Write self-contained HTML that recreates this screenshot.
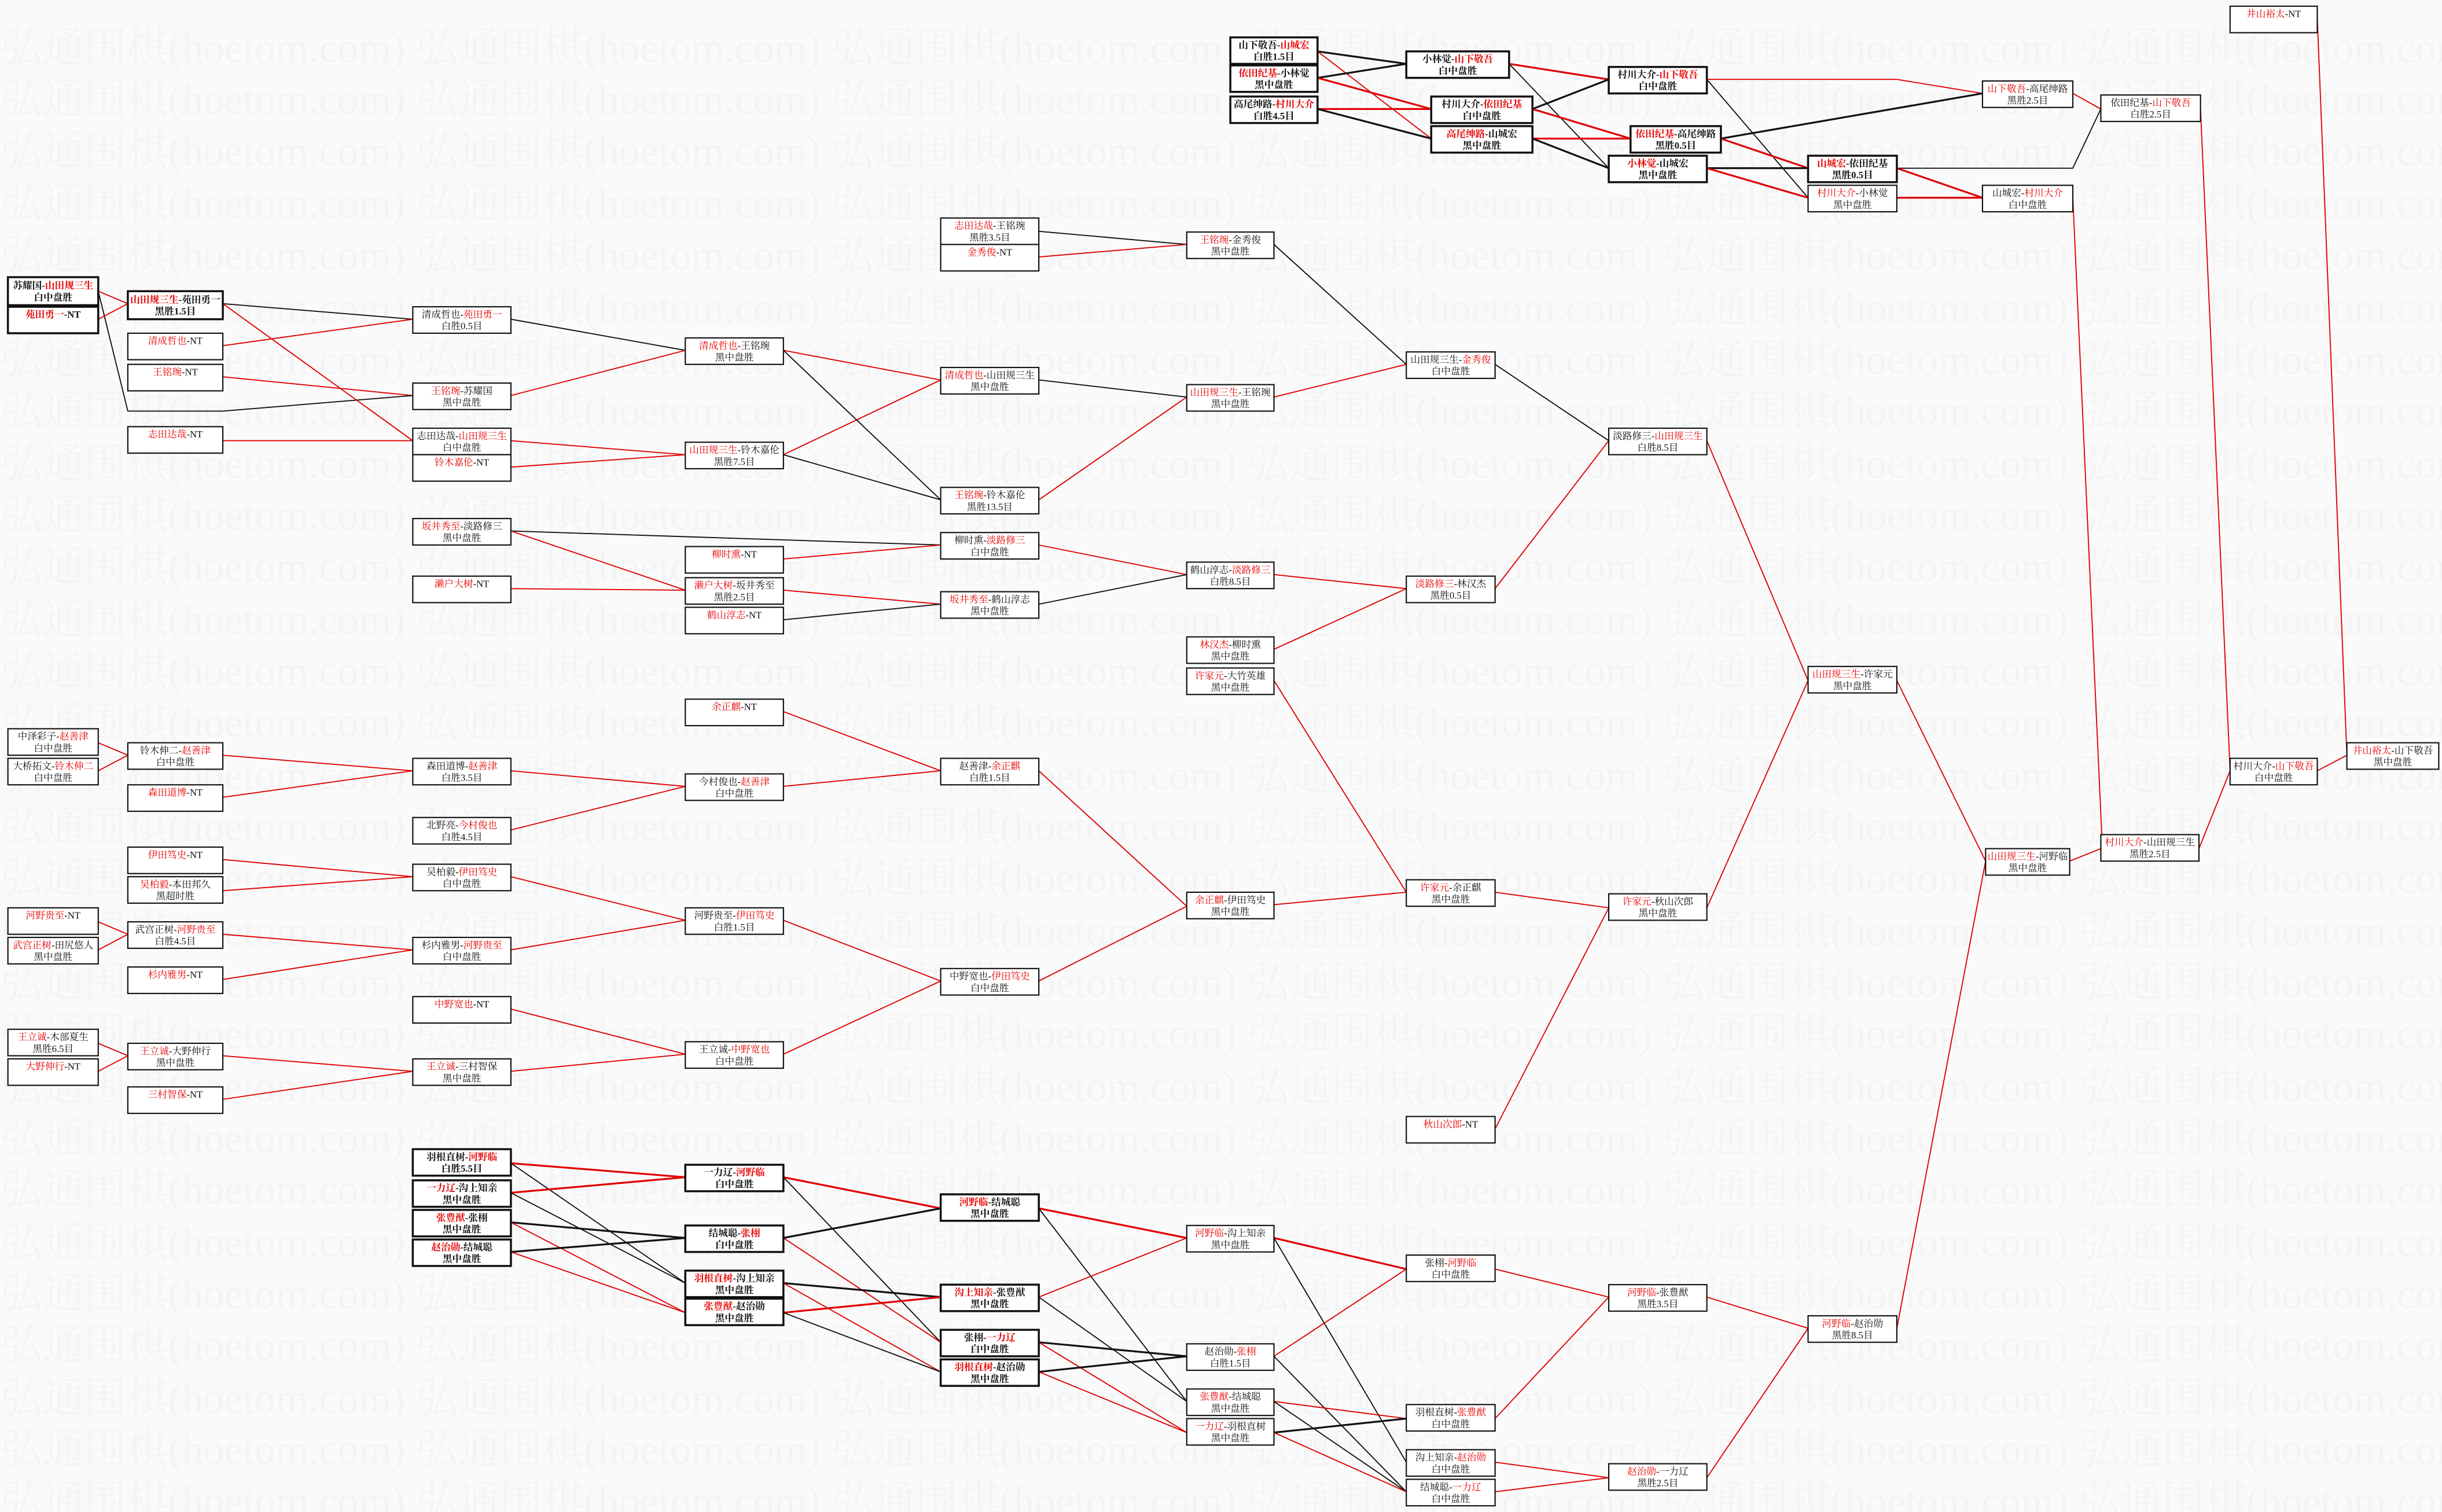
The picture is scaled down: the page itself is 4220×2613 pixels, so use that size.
<!DOCTYPE html>
<html><head><meta charset="utf-8">
<style>
html,body{margin:0;padding:0;background:#fafafa;}
svg{display:block;}
text{font-family:"Liberation Serif","Noto Serif CJK SC","Noto Sans CJK SC",serif;font-size:6.2px;text-anchor:middle;fill:#111;}
.wm text{font-size:27px;fill:#f4f4f4;text-anchor:start;font-family:"Liberation Serif","Noto Serif CJK SC",serif;}
rect{fill:#fff;stroke:#111;stroke-width:.8;}
.b rect{stroke-width:1.3;}
.b text{font-weight:bold;}
tspan.h{fill:#e60000;}
line,polyline{fill:none;}
.r{stroke:#e00000;stroke-width:.7;}
.R{stroke:#e00000;stroke-width:1.2;}
.k{stroke:#111;stroke-width:.7;}
.K{stroke:#111;stroke-width:1.2;}
</style></head><body>
<svg width="4220" height="2613" viewBox="0 0 1568 971" xmlns="http://www.w3.org/2000/svg">
<g class="wm">
<text x="0" y="40">弘通围棋(hoetom.com) 弘通围棋(hoetom.com) 弘通围棋(hoetom.com) 弘通围棋(hoetom.com) 弘通围棋(hoetom.com) 弘通围棋(hoetom.com) 弘通围棋(hoetom.com)</text>
<text x="0" y="73">弘通围棋(hoetom.com) 弘通围棋(hoetom.com) 弘通围棋(hoetom.com) 弘通围棋(hoetom.com) 弘通围棋(hoetom.com) 弘通围棋(hoetom.com) 弘通围棋(hoetom.com)</text>
<text x="0" y="106">弘通围棋(hoetom.com) 弘通围棋(hoetom.com) 弘通围棋(hoetom.com) 弘通围棋(hoetom.com) 弘通围棋(hoetom.com) 弘通围棋(hoetom.com) 弘通围棋(hoetom.com)</text>
<text x="0" y="140">弘通围棋(hoetom.com) 弘通围棋(hoetom.com) 弘通围棋(hoetom.com) 弘通围棋(hoetom.com) 弘通围棋(hoetom.com) 弘通围棋(hoetom.com) 弘通围棋(hoetom.com)</text>
<text x="0" y="173">弘通围棋(hoetom.com) 弘通围棋(hoetom.com) 弘通围棋(hoetom.com) 弘通围棋(hoetom.com) 弘通围棋(hoetom.com) 弘通围棋(hoetom.com) 弘通围棋(hoetom.com)</text>
<text x="0" y="207">弘通围棋(hoetom.com) 弘通围棋(hoetom.com) 弘通围棋(hoetom.com) 弘通围棋(hoetom.com) 弘通围棋(hoetom.com) 弘通围棋(hoetom.com) 弘通围棋(hoetom.com)</text>
<text x="0" y="240">弘通围棋(hoetom.com) 弘通围棋(hoetom.com) 弘通围棋(hoetom.com) 弘通围棋(hoetom.com) 弘通围棋(hoetom.com) 弘通围棋(hoetom.com) 弘通围棋(hoetom.com)</text>
<text x="0" y="273">弘通围棋(hoetom.com) 弘通围棋(hoetom.com) 弘通围棋(hoetom.com) 弘通围棋(hoetom.com) 弘通围棋(hoetom.com) 弘通围棋(hoetom.com) 弘通围棋(hoetom.com)</text>
<text x="0" y="307">弘通围棋(hoetom.com) 弘通围棋(hoetom.com) 弘通围棋(hoetom.com) 弘通围棋(hoetom.com) 弘通围棋(hoetom.com) 弘通围棋(hoetom.com) 弘通围棋(hoetom.com)</text>
<text x="0" y="340">弘通围棋(hoetom.com) 弘通围棋(hoetom.com) 弘通围棋(hoetom.com) 弘通围棋(hoetom.com) 弘通围棋(hoetom.com) 弘通围棋(hoetom.com) 弘通围棋(hoetom.com)</text>
<text x="0" y="373">弘通围棋(hoetom.com) 弘通围棋(hoetom.com) 弘通围棋(hoetom.com) 弘通围棋(hoetom.com) 弘通围棋(hoetom.com) 弘通围棋(hoetom.com) 弘通围棋(hoetom.com)</text>
<text x="0" y="407">弘通围棋(hoetom.com) 弘通围棋(hoetom.com) 弘通围棋(hoetom.com) 弘通围棋(hoetom.com) 弘通围棋(hoetom.com) 弘通围棋(hoetom.com) 弘通围棋(hoetom.com)</text>
<text x="0" y="440">弘通围棋(hoetom.com) 弘通围棋(hoetom.com) 弘通围棋(hoetom.com) 弘通围棋(hoetom.com) 弘通围棋(hoetom.com) 弘通围棋(hoetom.com) 弘通围棋(hoetom.com)</text>
<text x="0" y="473">弘通围棋(hoetom.com) 弘通围棋(hoetom.com) 弘通围棋(hoetom.com) 弘通围棋(hoetom.com) 弘通围棋(hoetom.com) 弘通围棋(hoetom.com) 弘通围棋(hoetom.com)</text>
<text x="0" y="507">弘通围棋(hoetom.com) 弘通围棋(hoetom.com) 弘通围棋(hoetom.com) 弘通围棋(hoetom.com) 弘通围棋(hoetom.com) 弘通围棋(hoetom.com) 弘通围棋(hoetom.com)</text>
<text x="0" y="540">弘通围棋(hoetom.com) 弘通围棋(hoetom.com) 弘通围棋(hoetom.com) 弘通围棋(hoetom.com) 弘通围棋(hoetom.com) 弘通围棋(hoetom.com) 弘通围棋(hoetom.com)</text>
<text x="0" y="573">弘通围棋(hoetom.com) 弘通围棋(hoetom.com) 弘通围棋(hoetom.com) 弘通围棋(hoetom.com) 弘通围棋(hoetom.com) 弘通围棋(hoetom.com) 弘通围棋(hoetom.com)</text>
<text x="0" y="607">弘通围棋(hoetom.com) 弘通围棋(hoetom.com) 弘通围棋(hoetom.com) 弘通围棋(hoetom.com) 弘通围棋(hoetom.com) 弘通围棋(hoetom.com) 弘通围棋(hoetom.com)</text>
<text x="0" y="640">弘通围棋(hoetom.com) 弘通围棋(hoetom.com) 弘通围棋(hoetom.com) 弘通围棋(hoetom.com) 弘通围棋(hoetom.com) 弘通围棋(hoetom.com) 弘通围棋(hoetom.com)</text>
<text x="0" y="673">弘通围棋(hoetom.com) 弘通围棋(hoetom.com) 弘通围棋(hoetom.com) 弘通围棋(hoetom.com) 弘通围棋(hoetom.com) 弘通围棋(hoetom.com) 弘通围棋(hoetom.com)</text>
<text x="0" y="707">弘通围棋(hoetom.com) 弘通围棋(hoetom.com) 弘通围棋(hoetom.com) 弘通围棋(hoetom.com) 弘通围棋(hoetom.com) 弘通围棋(hoetom.com) 弘通围棋(hoetom.com)</text>
<text x="0" y="740">弘通围棋(hoetom.com) 弘通围棋(hoetom.com) 弘通围棋(hoetom.com) 弘通围棋(hoetom.com) 弘通围棋(hoetom.com) 弘通围棋(hoetom.com) 弘通围棋(hoetom.com)</text>
<text x="0" y="773">弘通围棋(hoetom.com) 弘通围棋(hoetom.com) 弘通围棋(hoetom.com) 弘通围棋(hoetom.com) 弘通围棋(hoetom.com) 弘通围棋(hoetom.com) 弘通围棋(hoetom.com)</text>
<text x="0" y="807">弘通围棋(hoetom.com) 弘通围棋(hoetom.com) 弘通围棋(hoetom.com) 弘通围棋(hoetom.com) 弘通围棋(hoetom.com) 弘通围棋(hoetom.com) 弘通围棋(hoetom.com)</text>
<text x="0" y="840">弘通围棋(hoetom.com) 弘通围棋(hoetom.com) 弘通围棋(hoetom.com) 弘通围棋(hoetom.com) 弘通围棋(hoetom.com) 弘通围棋(hoetom.com) 弘通围棋(hoetom.com)</text>
<text x="0" y="873">弘通围棋(hoetom.com) 弘通围棋(hoetom.com) 弘通围棋(hoetom.com) 弘通围棋(hoetom.com) 弘通围棋(hoetom.com) 弘通围棋(hoetom.com) 弘通围棋(hoetom.com)</text>
<text x="0" y="907">弘通围棋(hoetom.com) 弘通围棋(hoetom.com) 弘通围棋(hoetom.com) 弘通围棋(hoetom.com) 弘通围棋(hoetom.com) 弘通围棋(hoetom.com) 弘通围棋(hoetom.com)</text>
<text x="0" y="940">弘通围棋(hoetom.com) 弘通围棋(hoetom.com) 弘通围棋(hoetom.com) 弘通围棋(hoetom.com) 弘通围棋(hoetom.com) 弘通围棋(hoetom.com) 弘通围棋(hoetom.com)</text>
<text x="0" y="973">弘通围棋(hoetom.com) 弘通围棋(hoetom.com) 弘通围棋(hoetom.com) 弘通围棋(hoetom.com) 弘通围棋(hoetom.com) 弘通围棋(hoetom.com) 弘通围棋(hoetom.com)</text>
</g>

<g>
<line class="K" x1="846" y1="33" x2="903" y2="41"/>
<line class="r" x1="846" y1="33" x2="919" y2="89"/>
<line class="K" x1="846" y1="50" x2="903" y2="41"/>
<line class="R" x1="846" y1="50" x2="919" y2="70"/>
<line class="R" x1="846" y1="70" x2="919" y2="70"/>
<line class="K" x1="846" y1="70" x2="919" y2="89"/>
<line class="R" x1="969" y1="41" x2="1033" y2="51"/>
<line class="k" x1="969" y1="41" x2="1033" y2="108"/>
<line class="K" x1="984" y1="70" x2="1033" y2="51"/>
<line class="R" x1="984" y1="70" x2="1047" y2="89"/>
<line class="R" x1="984" y1="89" x2="1047" y2="89"/>
<line class="K" x1="984" y1="89" x2="1033" y2="108"/>
<polyline class="r" points="1096,51 1218,51 1273,60"/>
<line class="k" x1="1096" y1="51" x2="1161" y2="127"/>
<line class="K" x1="1105" y1="89" x2="1273" y2="60"/>
<line class="R" x1="1105" y1="89" x2="1161" y2="108"/>
<line class="K" x1="1096" y1="108" x2="1161" y2="108"/>
<line class="R" x1="1096" y1="108" x2="1161" y2="127"/>
<polyline class="k" points="1218,108 1331,108 1349,70"/>
<line class="R" x1="1218" y1="108" x2="1273" y2="127"/>
<line class="R" x1="1218" y1="127" x2="1273" y2="127"/>
<line class="r" x1="1331" y1="60" x2="1349" y2="70"/>
<line class="r" x1="1331" y1="127" x2="1350" y2="545"/>
<line class="r" x1="1413" y1="70" x2="1432" y2="495"/>
<line class="r" x1="1488" y1="12" x2="1507" y2="485"/>
<line class="r" x1="1488" y1="495" x2="1507" y2="485"/>
<line class="r" x1="1412" y1="545" x2="1432" y2="495"/>
<line class="r" x1="1329" y1="553" x2="1349" y2="545"/>
<line class="r" x1="1218" y1="437" x2="1275" y2="553"/>
<line class="r" x1="1218" y1="853" x2="1275" y2="553"/>
<line class="r" x1="1096" y1="283" x2="1161" y2="437"/>
<line class="r" x1="1096" y1="583" x2="1161" y2="437"/>
<line class="k" x1="960" y1="234" x2="1033" y2="283"/>
<line class="r" x1="960" y1="378" x2="1033" y2="283"/>
<line class="r" x1="960" y1="573" x2="1033" y2="583"/>
<line class="r" x1="960" y1="725" x2="1033" y2="583"/>
<line class="k" x1="818" y1="157" x2="903" y2="234"/>
<line class="r" x1="818" y1="255" x2="903" y2="234"/>
<line class="r" x1="818" y1="369" x2="903" y2="378"/>
<line class="r" x1="818" y1="417" x2="903" y2="378"/>
<line class="r" x1="818" y1="437" x2="903" y2="573"/>
<line class="r" x1="818" y1="581" x2="903" y2="573"/>
<line class="k" x1="661" y1="148" x2="762" y2="157"/>
<line class="r" x1="667" y1="165" x2="762" y2="157"/>
<line class="k" x1="667" y1="244" x2="762" y2="255"/>
<line class="r" x1="667" y1="321" x2="762" y2="255"/>
<line class="r" x1="667" y1="350" x2="762" y2="369"/>
<line class="k" x1="667" y1="388" x2="762" y2="369"/>
<line class="r" x1="667" y1="495" x2="762" y2="582"/>
<line class="r" x1="667" y1="630" x2="762" y2="582"/>
<line class="r" x1="503" y1="225" x2="604" y2="244"/>
<line class="r" x1="503" y1="292" x2="604" y2="244"/>
<line class="k" x1="503" y1="225" x2="604" y2="321"/>
<line class="k" x1="503" y1="292" x2="604" y2="321"/>
<line class="k" x1="328" y1="341" x2="604" y2="350"/>
<line class="r" x1="503" y1="359" x2="604" y2="350"/>
<line class="r" x1="503" y1="379" x2="604" y2="388"/>
<line class="k" x1="503" y1="398" x2="604" y2="388"/>
<line class="r" x1="328" y1="341" x2="440" y2="379"/>
<line class="r" x1="328" y1="378" x2="440" y2="379"/>
<line class="r" x1="503" y1="457" x2="604" y2="495"/>
<line class="r" x1="503" y1="505" x2="604" y2="495"/>
<line class="r" x1="503" y1="591" x2="604" y2="630"/>
<line class="r" x1="503" y1="677" x2="604" y2="630"/>
<line class="k" x1="328" y1="205" x2="440" y2="225"/>
<line class="r" x1="328" y1="254" x2="440" y2="225"/>
<line class="r" x1="328" y1="283" x2="440" y2="292"/>
<line class="r" x1="328" y1="300" x2="440" y2="292"/>
<line class="r" x1="328" y1="495" x2="440" y2="505"/>
<line class="r" x1="328" y1="533" x2="440" y2="505"/>
<line class="r" x1="328" y1="563" x2="440" y2="591"/>
<line class="r" x1="328" y1="610" x2="440" y2="591"/>
<line class="r" x1="328" y1="648" x2="440" y2="677"/>
<line class="r" x1="328" y1="688" x2="440" y2="677"/>
<line class="k" x1="143" y1="195" x2="265" y2="205"/>
<line class="r" x1="143" y1="222" x2="265" y2="205"/>
<line class="r" x1="143" y1="242" x2="265" y2="254"/>
<polyline class="k" points="63,187 82,264 143,264 265,254"/>
<line class="r" x1="143" y1="195" x2="265" y2="283"/>
<line class="r" x1="143" y1="283" x2="265" y2="283"/>
<line class="r" x1="143" y1="485" x2="265" y2="495"/>
<line class="r" x1="143" y1="512" x2="265" y2="495"/>
<line class="r" x1="143" y1="552" x2="265" y2="563"/>
<line class="r" x1="143" y1="572" x2="265" y2="563"/>
<line class="r" x1="143" y1="600" x2="265" y2="610"/>
<line class="r" x1="143" y1="629" x2="265" y2="610"/>
<line class="r" x1="143" y1="678" x2="265" y2="688"/>
<line class="r" x1="143" y1="706" x2="265" y2="688"/>
<line class="r" x1="63" y1="187" x2="82" y2="195"/>
<line class="r" x1="63" y1="205" x2="82" y2="195"/>
<line class="r" x1="63" y1="477" x2="82" y2="485"/>
<line class="r" x1="63" y1="495" x2="82" y2="485"/>
<line class="r" x1="63" y1="592" x2="82" y2="600"/>
<line class="r" x1="63" y1="610" x2="82" y2="600"/>
<line class="r" x1="63" y1="670" x2="82" y2="678"/>
<line class="r" x1="63" y1="688" x2="82" y2="678"/>
<line class="R" x1="328" y1="747" x2="440" y2="756"/>
<line class="k" x1="328" y1="747" x2="440" y2="824"/>
<line class="R" x1="328" y1="766" x2="440" y2="756"/>
<line class="k" x1="328" y1="766" x2="440" y2="824"/>
<line class="K" x1="328" y1="785" x2="440" y2="795"/>
<line class="r" x1="328" y1="785" x2="440" y2="843"/>
<line class="K" x1="328" y1="804" x2="440" y2="795"/>
<line class="r" x1="328" y1="804" x2="440" y2="843"/>
<line class="R" x1="503" y1="756" x2="604" y2="776"/>
<line class="k" x1="503" y1="756" x2="604" y2="862"/>
<line class="K" x1="503" y1="795" x2="604" y2="776"/>
<line class="r" x1="503" y1="795" x2="604" y2="862"/>
<line class="K" x1="503" y1="824" x2="604" y2="833"/>
<line class="r" x1="503" y1="824" x2="604" y2="881"/>
<line class="R" x1="503" y1="843" x2="604" y2="833"/>
<line class="k" x1="503" y1="843" x2="604" y2="881"/>
<line class="R" x1="667" y1="776" x2="762" y2="795"/>
<line class="k" x1="667" y1="776" x2="762" y2="900"/>
<line class="r" x1="667" y1="833" x2="762" y2="795"/>
<line class="k" x1="667" y1="833" x2="762" y2="900"/>
<line class="K" x1="667" y1="862" x2="762" y2="871"/>
<line class="r" x1="667" y1="862" x2="762" y2="920"/>
<line class="K" x1="667" y1="881" x2="762" y2="871"/>
<line class="r" x1="667" y1="881" x2="762" y2="920"/>
<line class="R" x1="818" y1="795" x2="903" y2="815"/>
<line class="k" x1="818" y1="795" x2="903" y2="939"/>
<line class="r" x1="818" y1="871" x2="903" y2="815"/>
<line class="k" x1="818" y1="871" x2="903" y2="958"/>
<line class="r" x1="818" y1="900" x2="903" y2="911"/>
<line class="k" x1="818" y1="900" x2="903" y2="958"/>
<line class="K" x1="818" y1="920" x2="903" y2="911"/>
<line class="r" x1="818" y1="920" x2="903" y2="958"/>
<line class="r" x1="960" y1="815" x2="1033" y2="833"/>
<line class="r" x1="960" y1="911" x2="1033" y2="833"/>
<line class="r" x1="960" y1="939" x2="1033" y2="949"/>
<line class="r" x1="960" y1="958" x2="1033" y2="949"/>
<line class="r" x1="1096" y1="833" x2="1161" y2="853"/>
<line class="r" x1="1096" y1="949" x2="1161" y2="853"/>
</g>

<g class="b">
<rect x="790" y="24" width="56" height="17"/><text x="818" y="31"><tspan>山下敬吾-</tspan><tspan class="h">山城宏</tspan></text><text x="818" y="38.5">白胜1.5目</text>
<rect x="790" y="42" width="56" height="17"/><text x="818" y="49"><tspan class="h">依田纪基</tspan>-小林觉</text><text x="818" y="56.5">黑中盘胜</text>
<rect x="790" y="62" width="56" height="17"/><text x="818" y="69">高尾绅路-<tspan class="h">村川大介</tspan></text><text x="818" y="76.5">白胜4.5目</text>
<rect x="903" y="33" width="66" height="17"/><text x="936" y="40">小林觉-<tspan class="h">山下敬吾</tspan></text><text x="936" y="47.5">白中盘胜</text>
<rect x="919" y="62" width="65" height="17"/><text x="951.5" y="69">村川大介-<tspan class="h">依田纪基</tspan></text><text x="951.5" y="76.5">白中盘胜</text>
<rect x="919" y="81" width="65" height="17"/><text x="951.5" y="88"><tspan class="h">高尾绅路</tspan>-山城宏</text><text x="951.5" y="95.5">黑中盘胜</text>
<rect x="1033" y="43" width="63" height="17"/><text x="1064.5" y="50">村川大介-<tspan class="h">山下敬吾</tspan></text><text x="1064.5" y="57.5">白中盘胜</text>
<rect x="1047" y="81" width="58" height="17"/><text x="1076" y="88"><tspan class="h">依田纪基</tspan>-高尾绅路</text><text x="1076" y="95.5">黑胜0.5目</text>
<rect x="1033" y="100" width="63" height="17"/><text x="1064.5" y="107"><tspan class="h">小林觉</tspan>-山城宏</text><text x="1064.5" y="114.5">黑中盘胜</text>
<rect x="1161" y="100" width="57" height="17"/><text x="1189.5" y="107"><tspan class="h">山城宏</tspan>-依田纪基</text><text x="1189.5" y="114.5">黑胜0.5目</text>
</g>
<g>
<rect x="1161" y="119" width="57" height="17"/><text x="1189.5" y="126"><tspan class="h">村川大介</tspan>-小林觉</text><text x="1189.5" y="133.5">黑中盘胜</text>
<rect x="1273" y="52" width="58" height="17"/><text x="1302" y="59"><tspan class="h">山下敬吾</tspan>-高尾绅路</text><text x="1302" y="66.5">黑胜2.5目</text>
<rect x="1273" y="119" width="58" height="17"/><text x="1302" y="126">山城宏-<tspan class="h">村川大介</tspan></text><text x="1302" y="133.5">白中盘胜</text>
<rect x="1349" y="61" width="64" height="17"/><text x="1381" y="68">依田纪基-<tspan class="h">山下敬吾</tspan></text><text x="1381" y="75.5">白胜2.5目</text>
<rect x="1432" y="4" width="56" height="17"/><text x="1460" y="11"><tspan class="h">井山裕太</tspan>-NT</text>
<rect x="1507" y="477" width="59" height="17"/><text x="1536.5" y="484"><tspan class="h">井山裕太</tspan>-山下敬吾</text><text x="1536.5" y="491.5">黑中盘胜</text>
<rect x="1432" y="487" width="56" height="17"/><text x="1460" y="494">村川大介-<tspan class="h">山下敬吾</tspan></text><text x="1460" y="501.5">白中盘胜</text>
<rect x="1349" y="536" width="63" height="17"/><text x="1380.5" y="543"><tspan class="h">村川大介</tspan>-山田规三生</text><text x="1380.5" y="550.5">黑胜2.5目</text>
<rect x="1275" y="545" width="54" height="17"/><text x="1302" y="552"><tspan class="h">山田规三生</tspan>-河野临</text><text x="1302" y="559.5">黑中盘胜</text>
<rect x="1161" y="428" width="57" height="17"/><text x="1189.5" y="435"><tspan class="h">山田规三生</tspan>-许家元</text><text x="1189.5" y="442.5">黑中盘胜</text>
<rect x="1033" y="275" width="63" height="17"/><text x="1064.5" y="282">淡路修三-<tspan class="h">山田规三生</tspan></text><text x="1064.5" y="289.5">白胜8.5目</text>
<rect x="1033" y="574" width="63" height="17"/><text x="1064.5" y="581"><tspan class="h">许家元</tspan>-秋山次郎</text><text x="1064.5" y="588.5">黑中盘胜</text>
<rect x="903" y="226" width="57" height="17"/><text x="931.5" y="233">山田规三生-<tspan class="h">金秀俊</tspan></text><text x="931.5" y="240.5">白中盘胜</text>
<rect x="903" y="370" width="57" height="17"/><text x="931.5" y="377"><tspan class="h">淡路修三</tspan>-林汉杰</text><text x="931.5" y="384.5">黑胜0.5目</text>
<rect x="903" y="565" width="57" height="17"/><text x="931.5" y="572"><tspan class="h">许家元</tspan>-余正麒</text><text x="931.5" y="579.5">黑中盘胜</text>
<rect x="903" y="717" width="57" height="17"/><text x="931.5" y="724"><tspan class="h">秋山次郎</tspan>-NT</text>
<rect x="762" y="149" width="56" height="17"/><text x="790" y="156"><tspan class="h">王铭琬</tspan>-金秀俊</text><text x="790" y="163.5">黑中盘胜</text>
<rect x="762" y="247" width="56" height="17"/><text x="790" y="254"><tspan class="h">山田规三生</tspan>-王铭琬</text><text x="790" y="261.5">黑中盘胜</text>
<rect x="762" y="361" width="56" height="17"/><text x="790" y="368">鹤山淳志-<tspan class="h">淡路修三</tspan></text><text x="790" y="375.5">白胜8.5目</text>
<rect x="762" y="409" width="56" height="17"/><text x="790" y="416"><tspan class="h">林汉杰</tspan>-柳时熏</text><text x="790" y="423.5">黑中盘胜</text>
<rect x="762" y="429" width="56" height="17"/><text x="790" y="436"><tspan class="h">许家元</tspan>-大竹英雄</text><text x="790" y="443.5">黑中盘胜</text>
<rect x="762" y="573" width="56" height="17"/><text x="790" y="580"><tspan class="h">余正麒</tspan>-伊田笃史</text><text x="790" y="587.5">黑中盘胜</text>
<rect x="604" y="140" width="63" height="17"/><text x="635.5" y="147"><tspan class="h">志田达哉</tspan>-王铭琬</text><text x="635.5" y="154.5">黑胜3.5目</text>
<rect x="604" y="157" width="63" height="17"/><text x="635.5" y="164"><tspan class="h">金秀俊</tspan>-NT</text>
<rect x="604" y="236" width="63" height="17"/><text x="635.5" y="243"><tspan class="h">清成哲也</tspan>-山田规三生</text><text x="635.5" y="250.5">黑中盘胜</text>
<rect x="604" y="313" width="63" height="17"/><text x="635.5" y="320"><tspan class="h">王铭琬</tspan>-铃木嘉伦</text><text x="635.5" y="327.5">黑胜13.5目</text>
<rect x="604" y="342" width="63" height="17"/><text x="635.5" y="349">柳时熏-<tspan class="h">淡路修三</tspan></text><text x="635.5" y="356.5">白中盘胜</text>
<rect x="604" y="380" width="63" height="17"/><text x="635.5" y="387"><tspan class="h">坂井秀至</tspan>-鹤山淳志</text><text x="635.5" y="394.5">黑中盘胜</text>
<rect x="604" y="487" width="63" height="17"/><text x="635.5" y="494">赵善津-<tspan class="h">余正麒</tspan></text><text x="635.5" y="501.5">白胜1.5目</text>
<rect x="604" y="622" width="63" height="17"/><text x="635.5" y="629">中野宽也-<tspan class="h">伊田笃史</tspan></text><text x="635.5" y="636.5">白中盘胜</text>
<rect x="440" y="217" width="63" height="17"/><text x="471.5" y="224"><tspan class="h">清成哲也</tspan>-王铭琬</text><text x="471.5" y="231.5">黑中盘胜</text>
<rect x="440" y="284" width="63" height="17"/><text x="471.5" y="291"><tspan class="h">山田规三生</tspan>-铃木嘉伦</text><text x="471.5" y="298.5">黑胜7.5目</text>
<rect x="440" y="351" width="63" height="17"/><text x="471.5" y="358"><tspan class="h">柳时熏</tspan>-NT</text>
<rect x="440" y="371" width="63" height="17"/><text x="471.5" y="378"><tspan class="h">濑户大树</tspan>-坂井秀至</text><text x="471.5" y="385.5">黑胜2.5目</text>
<rect x="440" y="390" width="63" height="17"/><text x="471.5" y="397"><tspan class="h">鹤山淳志</tspan>-NT</text>
<rect x="440" y="449" width="63" height="17"/><text x="471.5" y="456"><tspan class="h">余正麒</tspan>-NT</text>
<rect x="440" y="497" width="63" height="17"/><text x="471.5" y="504">今村俊也-<tspan class="h">赵善津</tspan></text><text x="471.5" y="511.5">白中盘胜</text>
<rect x="440" y="583" width="63" height="17"/><text x="471.5" y="590">河野贵至-<tspan class="h">伊田笃史</tspan></text><text x="471.5" y="597.5">白胜1.5目</text>
<rect x="440" y="669" width="63" height="17"/><text x="471.5" y="676">王立诚-<tspan class="h">中野宽也</tspan></text><text x="471.5" y="683.5">白中盘胜</text>
<rect x="265" y="197" width="63" height="17"/><text x="296.5" y="204">清成哲也-<tspan class="h">苑田勇一</tspan></text><text x="296.5" y="211.5">白胜0.5目</text>
<rect x="265" y="246" width="63" height="17"/><text x="296.5" y="253"><tspan class="h">王铭琬</tspan>-苏耀国</text><text x="296.5" y="260.5">黑中盘胜</text>
<rect x="265" y="275" width="63" height="17"/><text x="296.5" y="282">志田达哉-<tspan class="h">山田规三生</tspan></text><text x="296.5" y="289.5">白中盘胜</text>
<rect x="265" y="292" width="63" height="17"/><text x="296.5" y="299"><tspan class="h">铃木嘉伦</tspan>-NT</text>
<rect x="265" y="333" width="63" height="17"/><text x="296.5" y="340"><tspan class="h">坂井秀至</tspan>-淡路修三</text><text x="296.5" y="347.5">黑中盘胜</text>
<rect x="265" y="370" width="63" height="17"/><text x="296.5" y="377"><tspan class="h">濑户大树</tspan>-NT</text>
<rect x="265" y="487" width="63" height="17"/><text x="296.5" y="494">森田道博-<tspan class="h">赵善津</tspan></text><text x="296.5" y="501.5">白胜3.5目</text>
<rect x="265" y="525" width="63" height="17"/><text x="296.5" y="532">北野亮-<tspan class="h">今村俊也</tspan></text><text x="296.5" y="539.5">白胜4.5目</text>
<rect x="265" y="555" width="63" height="17"/><text x="296.5" y="562">吴柏毅-<tspan class="h">伊田笃史</tspan></text><text x="296.5" y="569.5">白中盘胜</text>
<rect x="265" y="602" width="63" height="17"/><text x="296.5" y="609">杉内雅男-<tspan class="h">河野贵至</tspan></text><text x="296.5" y="616.5">白中盘胜</text>
<rect x="265" y="640" width="63" height="17"/><text x="296.5" y="647"><tspan class="h">中野宽也</tspan>-NT</text>
<rect x="265" y="680" width="63" height="17"/><text x="296.5" y="687"><tspan class="h">王立诚</tspan>-三村智保</text><text x="296.5" y="694.5">黑中盘胜</text>
<rect x="82" y="214" width="61" height="17"/><text x="112.5" y="221"><tspan class="h">清成哲也</tspan>-NT</text>
<rect x="82" y="234" width="61" height="17"/><text x="112.5" y="241"><tspan class="h">王铭琬</tspan>-NT</text>
<rect x="82" y="274" width="61" height="17"/><text x="112.5" y="281"><tspan class="h">志田达哉</tspan>-NT</text>
<rect x="82" y="477" width="61" height="17"/><text x="112.5" y="484">铃木伸二-<tspan class="h">赵善津</tspan></text><text x="112.5" y="491.5">白中盘胜</text>
<rect x="82" y="504" width="61" height="17"/><text x="112.5" y="511"><tspan class="h">森田道博</tspan>-NT</text>
<rect x="82" y="544" width="61" height="17"/><text x="112.5" y="551"><tspan class="h">伊田笃史</tspan>-NT</text>
<rect x="82" y="563" width="61" height="17"/><text x="112.5" y="570"><tspan class="h">吴柏毅</tspan>-本田邦久</text><text x="112.5" y="577.5">黑超时胜</text>
<rect x="82" y="592" width="61" height="17"/><text x="112.5" y="599">武宫正树-<tspan class="h">河野贵至</tspan></text><text x="112.5" y="606.5">白胜4.5目</text>
<rect x="82" y="621" width="61" height="17"/><text x="112.5" y="628"><tspan class="h">杉内雅男</tspan>-NT</text>
<rect x="82" y="670" width="61" height="17"/><text x="112.5" y="677"><tspan class="h">王立诚</tspan>-大野伸行</text><text x="112.5" y="684.5">黑中盘胜</text>
<rect x="82" y="698" width="61" height="17"/><text x="112.5" y="705"><tspan class="h">三村智保</tspan>-NT</text>
<rect x="5" y="468" width="58" height="17"/><text x="34" y="475">中泽彩子-<tspan class="h">赵善津</tspan></text><text x="34" y="482.5">白中盘胜</text>
<rect x="5" y="487" width="58" height="17"/><text x="34" y="494">大桥拓文-<tspan class="h">铃木伸二</tspan></text><text x="34" y="501.5">白中盘胜</text>
<rect x="5" y="583" width="58" height="17"/><text x="34" y="590"><tspan class="h">河野贵至</tspan>-NT</text>
<rect x="5" y="602" width="58" height="17"/><text x="34" y="609"><tspan class="h">武宫正树</tspan>-田尻悠人</text><text x="34" y="616.5">黑中盘胜</text>
<rect x="5" y="661" width="58" height="17"/><text x="34" y="668"><tspan class="h">王立诚</tspan>-木部夏生</text><text x="34" y="675.5">黑胜6.5目</text>
<rect x="5" y="680" width="58" height="17"/><text x="34" y="687"><tspan class="h">大野伸行</tspan>-NT</text>
<rect x="762" y="787" width="56" height="17"/><text x="790" y="794"><tspan class="h">河野临</tspan>-沟上知亲</text><text x="790" y="801.5">黑中盘胜</text>
<rect x="762" y="863" width="56" height="17"/><text x="790" y="870">赵治勋-<tspan class="h">张栩</tspan></text><text x="790" y="877.5">白胜1.5目</text>
<rect x="762" y="892" width="56" height="17"/><text x="790" y="899"><tspan class="h">张豊猷</tspan>-结城聪</text><text x="790" y="906.5">黑中盘胜</text>
<rect x="762" y="911" width="56" height="17"/><text x="790" y="918"><tspan class="h">一力辽</tspan>-羽根直树</text><text x="790" y="925.5">黑中盘胜</text>
<rect x="903" y="806" width="57" height="17"/><text x="931.5" y="813">张栩-<tspan class="h">河野临</tspan></text><text x="931.5" y="820.5">白中盘胜</text>
<rect x="903" y="902" width="57" height="17"/><text x="931.5" y="909">羽根直树-<tspan class="h">张豊猷</tspan></text><text x="931.5" y="916.5">白中盘胜</text>
<rect x="903" y="931" width="57" height="17"/><text x="931.5" y="938">沟上知亲-<tspan class="h">赵治勋</tspan></text><text x="931.5" y="945.5">白中盘胜</text>
<rect x="903" y="950" width="57" height="17"/><text x="931.5" y="957">结城聪-<tspan class="h">一力辽</tspan></text><text x="931.5" y="964.5">白中盘胜</text>
<rect x="1033" y="825" width="63" height="17"/><text x="1064.5" y="832"><tspan class="h">河野临</tspan>-张豊猷</text><text x="1064.5" y="839.5">黑胜3.5目</text>
<rect x="1033" y="940" width="63" height="17"/><text x="1064.5" y="947"><tspan class="h">赵治勋</tspan>-一力辽</text><text x="1064.5" y="954.5">黑胜2.5目</text>
<rect x="1161" y="845" width="57" height="17"/><text x="1189.5" y="852"><tspan class="h">河野临</tspan>-赵治勋</text><text x="1189.5" y="859.5">黑胜8.5目</text>
</g>
<g class="b">
<rect x="5" y="178" width="58" height="18"/><text x="34" y="185.5">苏耀国-<tspan class="h">山田规三生</tspan></text><text x="34" y="193">白中盘胜</text>
<rect x="5" y="197" width="58" height="17"/><text x="34" y="204"><tspan class="h">苑田勇一</tspan>-NT</text>
<rect x="82" y="187" width="61" height="18"/><text x="112.5" y="194.5"><tspan class="h">山田规三生</tspan>-苑田勇一</text><text x="112.5" y="202">黑胜1.5目</text>
<rect x="265" y="738" width="63" height="17"/><text x="296.5" y="745">羽根直树-<tspan class="h">河野临</tspan></text><text x="296.5" y="752.5">白胜5.5目</text>
<rect x="265" y="758" width="63" height="17"/><text x="296.5" y="765"><tspan class="h">一力辽</tspan>-沟上知亲</text><text x="296.5" y="772.5">黑中盘胜</text>
<rect x="265" y="777" width="63" height="17"/><text x="296.5" y="784"><tspan class="h">张豊猷</tspan>-张栩</text><text x="296.5" y="791.5">黑中盘胜</text>
<rect x="265" y="796" width="63" height="17"/><text x="296.5" y="803"><tspan class="h">赵治勋</tspan>-结城聪</text><text x="296.5" y="810.5">黑中盘胜</text>
<rect x="440" y="748" width="63" height="17"/><text x="471.5" y="755">一力辽-<tspan class="h">河野临</tspan></text><text x="471.5" y="762.5">白中盘胜</text>
<rect x="440" y="787" width="63" height="17"/><text x="471.5" y="794">结城聪-<tspan class="h">张栩</tspan></text><text x="471.5" y="801.5">白中盘胜</text>
<rect x="440" y="816" width="63" height="17"/><text x="471.5" y="823"><tspan class="h">羽根直树</tspan>-沟上知亲</text><text x="471.5" y="830.5">黑中盘胜</text>
<rect x="440" y="834" width="63" height="17"/><text x="471.5" y="841"><tspan class="h">张豊猷</tspan>-赵治勋</text><text x="471.5" y="848.5">黑中盘胜</text>
<rect x="604" y="767" width="63" height="17"/><text x="635.5" y="774"><tspan class="h">河野临</tspan>-结城聪</text><text x="635.5" y="781.5">黑中盘胜</text>
<rect x="604" y="825" width="63" height="17"/><text x="635.5" y="832"><tspan class="h">沟上知亲</tspan>-张豊猷</text><text x="635.5" y="839.5">黑中盘胜</text>
<rect x="604" y="854" width="63" height="17"/><text x="635.5" y="861">张栩-<tspan class="h">一力辽</tspan></text><text x="635.5" y="868.5">白中盘胜</text>
<rect x="604" y="873" width="63" height="17"/><text x="635.5" y="880"><tspan class="h">羽根直树</tspan>-赵治勋</text><text x="635.5" y="887.5">黑中盘胜</text>
</g>
</svg>
</body></html>
